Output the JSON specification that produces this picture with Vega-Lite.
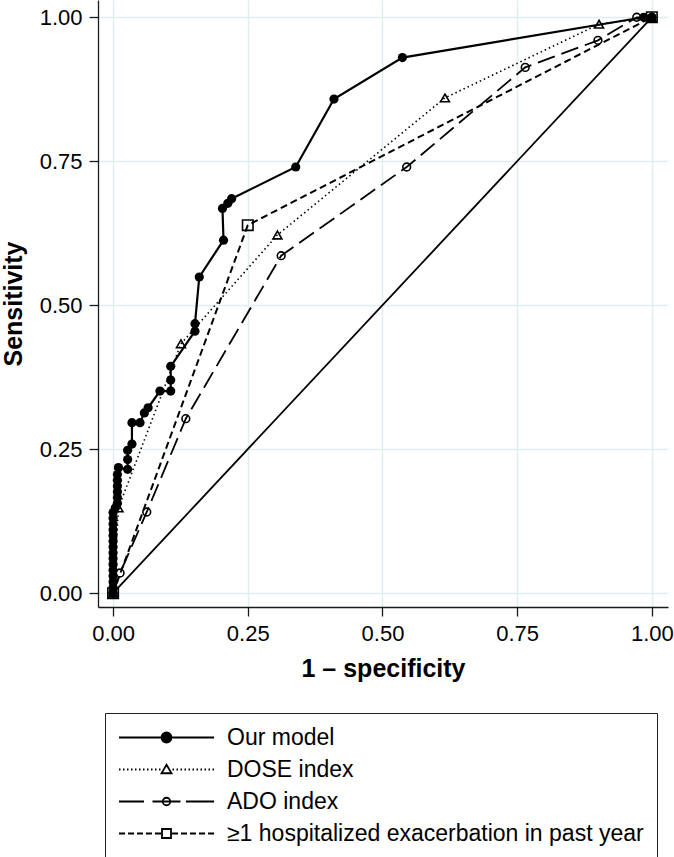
{
  "$schema": "https://vega.github.io/schema/vega-lite/v6.json",
  "width": 570,
  "height": 607,
  "autosize": "none",
  "padding": {"left": 98, "top": 0, "right": 6, "bottom": 250},
  "background": "white",
  "config": {
    "font": "Liberation Sans",
    "view": {"stroke": null},
    "axis": {
      "grid": true,
      "gridColor": "#e3edf0",
      "gridWidth": 1.5,
      "domainColor": "#1a1a1a",
      "domainWidth": 1.3,
      "tickColor": "#1a1a1a",
      "tickWidth": 1.3,
      "tickSize": 9,
      "labelFontSize": 22,
      "labelColor": "black",
      "labelPadding": 7,
      "labelFlush": false,
      "labelOverlap": false,
      "titleFontSize": 25,
      "titleFontWeight": "bold",
      "titleColor": "black"
    },
    "legend": {
      "orient": "none",
      "legendX": 7,
      "legendY": 713,
      "direction": "vertical",
      "padding": 13,
      "strokeColor": "#222222",
      "fillColor": "white",
      "labelFontSize": 23,
      "labelColor": "black",
      "labelLimit": 700,
      "rowPadding": 8,
      "symbolSize": 100,
      "symbolStrokeWidth": 1.8,
      "symbolStrokeColor": "black",
      "symbolOffset": 37,
      "labelOffset": 49
    }
  },
  "datasets": {
    "diag": [{"fpr": 0, "tpr": 0, "fpr2": 1, "tpr2": 1}],
    "roc": [
      {"s": "Our model", "i": 0, "fpr": 0, "tpr": 0},
      {"s": "Our model", "i": 1, "fpr": 0, "tpr": 0.01},
      {"s": "Our model", "i": 2, "fpr": 0, "tpr": 0.02},
      {"s": "Our model", "i": 3, "fpr": 0, "tpr": 0.03},
      {"s": "Our model", "i": 4, "fpr": 0, "tpr": 0.04},
      {"s": "Our model", "i": 5, "fpr": 0, "tpr": 0.05},
      {"s": "Our model", "i": 6, "fpr": 0, "tpr": 0.06},
      {"s": "Our model", "i": 7, "fpr": 0, "tpr": 0.07},
      {"s": "Our model", "i": 8, "fpr": 0, "tpr": 0.08},
      {"s": "Our model", "i": 9, "fpr": 0, "tpr": 0.09},
      {"s": "Our model", "i": 10, "fpr": 0, "tpr": 0.1},
      {"s": "Our model", "i": 11, "fpr": 0, "tpr": 0.11},
      {"s": "Our model", "i": 12, "fpr": 0, "tpr": 0.12},
      {"s": "Our model", "i": 13, "fpr": 0, "tpr": 0.13},
      {"s": "Our model", "i": 14, "fpr": 0, "tpr": 0.14},
      {"s": "Our model", "i": 15, "fpr": 0.004, "tpr": 0.148},
      {"s": "Our model", "i": 16, "fpr": 0.008, "tpr": 0.156},
      {"s": "Our model", "i": 17, "fpr": 0.008, "tpr": 0.166},
      {"s": "Our model", "i": 18, "fpr": 0.008, "tpr": 0.176},
      {"s": "Our model", "i": 19, "fpr": 0.008, "tpr": 0.186},
      {"s": "Our model", "i": 20, "fpr": 0.008, "tpr": 0.196},
      {"s": "Our model", "i": 21, "fpr": 0.008, "tpr": 0.206},
      {"s": "Our model", "i": 22, "fpr": 0.01, "tpr": 0.218},
      {"s": "Our model", "i": 23, "fpr": 0.027, "tpr": 0.215},
      {"s": "Our model", "i": 24, "fpr": 0.027, "tpr": 0.232},
      {"s": "Our model", "i": 25, "fpr": 0.027, "tpr": 0.248},
      {"s": "Our model", "i": 26, "fpr": 0.035, "tpr": 0.259},
      {"s": "Our model", "i": 27, "fpr": 0.035, "tpr": 0.296},
      {"s": "Our model", "i": 28, "fpr": 0.05, "tpr": 0.296},
      {"s": "Our model", "i": 29, "fpr": 0.058, "tpr": 0.313},
      {"s": "Our model", "i": 30, "fpr": 0.065, "tpr": 0.322},
      {"s": "Our model", "i": 31, "fpr": 0.087, "tpr": 0.351},
      {"s": "Our model", "i": 32, "fpr": 0.107, "tpr": 0.351},
      {"s": "Our model", "i": 33, "fpr": 0.107, "tpr": 0.37},
      {"s": "Our model", "i": 34, "fpr": 0.107, "tpr": 0.394},
      {"s": "Our model", "i": 35, "fpr": 0.152, "tpr": 0.455},
      {"s": "Our model", "i": 36, "fpr": 0.152, "tpr": 0.468},
      {"s": "Our model", "i": 37, "fpr": 0.16, "tpr": 0.549},
      {"s": "Our model", "i": 38, "fpr": 0.205, "tpr": 0.613},
      {"s": "Our model", "i": 39, "fpr": 0.203, "tpr": 0.668},
      {"s": "Our model", "i": 40, "fpr": 0.213, "tpr": 0.677},
      {"s": "Our model", "i": 41, "fpr": 0.22, "tpr": 0.685},
      {"s": "Our model", "i": 42, "fpr": 0.339, "tpr": 0.74},
      {"s": "Our model", "i": 43, "fpr": 0.41, "tpr": 0.858},
      {"s": "Our model", "i": 44, "fpr": 0.537, "tpr": 0.93},
      {"s": "Our model", "i": 45, "fpr": 0.985, "tpr": 1.0},
      {"s": "Our model", "i": 46, "fpr": 1, "tpr": 1},
      {"s": "DOSE index", "i": 0, "fpr": 0, "tpr": 0},
      {"s": "DOSE index", "i": 1, "fpr": 0.01, "tpr": 0.148},
      {"s": "DOSE index", "i": 2, "fpr": 0.126, "tpr": 0.433},
      {"s": "DOSE index", "i": 3, "fpr": 0.305, "tpr": 0.622},
      {"s": "DOSE index", "i": 4, "fpr": 0.616, "tpr": 0.86},
      {"s": "DOSE index", "i": 5, "fpr": 0.902, "tpr": 0.988},
      {"s": "DOSE index", "i": 6, "fpr": 1, "tpr": 1},
      {"s": "ADO index", "i": 0, "fpr": 0, "tpr": 0},
      {"s": "ADO index", "i": 1, "fpr": 0.013, "tpr": 0.035},
      {"s": "ADO index", "i": 2, "fpr": 0.0625, "tpr": 0.141},
      {"s": "ADO index", "i": 3, "fpr": 0.135, "tpr": 0.303},
      {"s": "ADO index", "i": 4, "fpr": 0.312, "tpr": 0.586},
      {"s": "ADO index", "i": 5, "fpr": 0.545, "tpr": 0.74},
      {"s": "ADO index", "i": 6, "fpr": 0.765, "tpr": 0.913},
      {"s": "ADO index", "i": 7, "fpr": 0.9, "tpr": 0.96},
      {"s": "ADO index", "i": 8, "fpr": 0.972, "tpr": 1.0},
      {"s": "ADO index", "i": 9, "fpr": 1, "tpr": 1},
      {"s": "≥1 hospitalized exacerbation in past year", "i": 0, "fpr": 0, "tpr": 0},
      {"s": "≥1 hospitalized exacerbation in past year", "i": 1, "fpr": 0.25, "tpr": 0.639},
      {"s": "≥1 hospitalized exacerbation in past year", "i": 2, "fpr": 1, "tpr": 1}
    ]
  },
  "encoding": {
    "x": {
      "field": "fpr",
      "type": "quantitative",
      "scale": {"domain": [-0.028, 1.03], "nice": false, "zero": false},
      "axis": {"values": [0, 0.25, 0.5, 0.75, 1], "format": ".2f", "title": "1 – specificity", "titlePadding": 12}
    },
    "y": {
      "field": "tpr",
      "type": "quantitative",
      "scale": {"domain": [-0.024, 1.03], "nice": false, "zero": false},
      "axis": {"values": [0, 0.25, 0.5, 0.75, 1], "format": ".2f", "title": "Sensitivity", "titlePadding": 13}
    }
  },
  "layer": [
    {
      "data": {"name": "diag"},
      "mark": {"type": "rule", "color": "black", "strokeWidth": 1.8},
      "encoding": {"x2": {"field": "fpr2"}, "y2": {"field": "tpr2"}}
    },
    {
      "data": {"name": "roc"},
      "transform": [{"filter": "datum.s === '≥1 hospitalized exacerbation in past year'"}],
      "mark": {"type": "line", "color": "black", "strokeWidth": 2, "strokeDash": [7, 4]},
      "encoding": {"order": {"field": "i", "type": "quantitative"}}
    },
    {
      "data": {"name": "roc"},
      "transform": [{"filter": "datum.s === 'ADO index'"}],
      "mark": {"type": "line", "color": "black", "strokeWidth": 1.8, "strokeDash": [18, 7]},
      "encoding": {"order": {"field": "i", "type": "quantitative"}}
    },
    {
      "data": {"name": "roc"},
      "transform": [{"filter": "datum.s === 'DOSE index'"}],
      "mark": {"type": "line", "color": "black", "strokeWidth": 1.6, "strokeDash": [1.5, 3]},
      "encoding": {"order": {"field": "i", "type": "quantitative"}}
    },
    {
      "data": {"name": "roc"},
      "transform": [{"filter": "datum.s === 'Our model'"}],
      "mark": {"type": "line", "color": "black", "strokeWidth": 2.2},
      "encoding": {"order": {"field": "i", "type": "quantitative"}}
    },
    {
      "data": {"name": "roc"},
      "transform": [{"filter": "datum.s === '≥1 hospitalized exacerbation in past year'"}],
      "mark": {"type": "point", "shape": "square", "filled": false, "color": "black", "strokeWidth": 1.6, "size": 110, "opacity": 1}
    },
    {
      "data": {"name": "roc"},
      "transform": [{"filter": "datum.s === 'ADO index'"}],
      "mark": {"type": "point", "shape": "circle", "filled": false, "color": "black", "strokeWidth": 1.6, "size": 60, "opacity": 1}
    },
    {
      "data": {"name": "roc"},
      "transform": [{"filter": "datum.s === 'DOSE index'"}],
      "mark": {"type": "point", "shape": "triangle-up", "filled": false, "color": "black", "strokeWidth": 1.6, "size": 80, "opacity": 1}
    },
    {
      "data": {"name": "roc"},
      "transform": [{"filter": "datum.s === 'Our model'"}],
      "mark": {"type": "point", "shape": "circle", "filled": true, "color": "black", "size": 85, "opacity": 1}
    },
    {
      "data": {"name": "roc"},
      "transform": [{"filter": "datum.i < 0"}],
      "mark": {"type": "point", "strokeWidth": 1.8, "opacity": 1},
      "encoding": {
        "shape": {
          "field": "s",
          "type": "nominal",
          "scale": {
            "domain": ["Our model", "DOSE index", "ADO index", "≥1 hospitalized exacerbation in past year"],
            "range": [
              "M-9.5,0H9.5M-1,0A1,1,0,1,0,1,0A1,1,0,1,0,-1,0Z",
              "M-9.5,0h0.3M-8.7,0h0.3M-7.9,0h0.3M-7.1,0h0.3M-6.3,0h0.3M-5.5,0h0.3M-4.7,0h0.3M-3.9,0h0.3M-3.1,0h0.3M-2.3,0h0.3M-1.5,0h0.3M1.2,0h0.3M2,0h0.3M2.8,0h0.3M3.6,0h0.3M4.4,0h0.3M5.2,0h0.3M6,0h0.3M6.8,0h0.3M7.6,0h0.3M8.4,0h0.3M9.2,0h0.3M0,-0.95L1,0.75H-1Z",
              "M-9.5,0H-4.5M-2.8,0H2.8M3.9,0H9.5M-0.75,0A0.75,0.75,0,1,0,0.75,0A0.75,0.75,0,1,0,-0.75,0Z",
              "M-9.5,0H-8.3M-7.7,0H-6.5M-5.9,0H-4.7M-4.1,0H-2.9M-2.3,0H-1.1M1.1,0H2.3M2.9,0H4.1M4.7,0H5.9M6.5,0H7.7M8.3,0H9.5M-0.9,-0.9H0.9V0.9H-0.9Z"
            ]
          },
          "legend": {"title": null}
        },
        "fill": {
          "field": "s",
          "type": "nominal",
          "scale": {
            "domain": ["Our model", "DOSE index", "ADO index", "≥1 hospitalized exacerbation in past year"],
            "range": ["black", "white", "white", "white"]
          },
          "legend": {"title": null}
        },
        "stroke": {
          "field": "s",
          "type": "nominal",
          "scale": {
            "domain": ["Our model", "DOSE index", "ADO index", "≥1 hospitalized exacerbation in past year"],
            "range": ["black", "black", "black", "black"]
          },
          "legend": {"title": null}
        }
      }
    }
  ]
}
